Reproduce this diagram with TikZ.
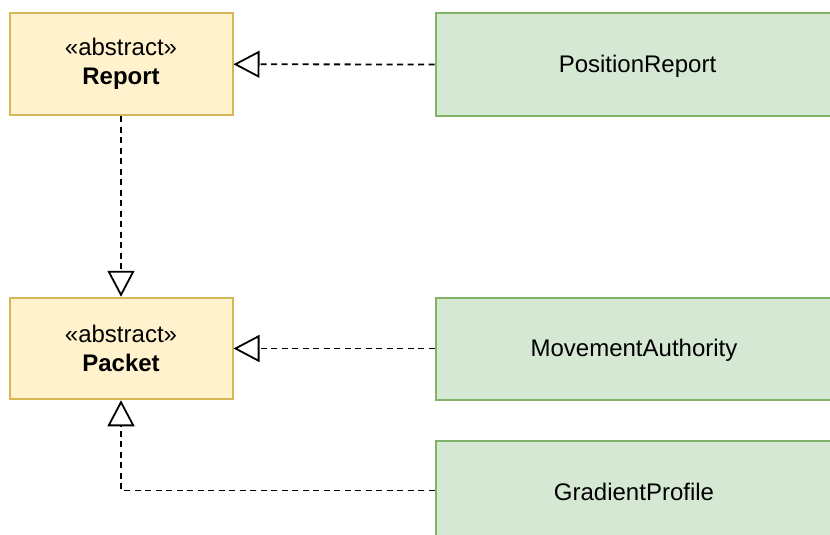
\documentclass[tikz,border=0pt]{standalone}
\usepackage{fontspec}
\setmainfont{Liberation Sans}
\usetikzlibrary{arrows.meta}
\definecolor{yfill}{HTML}{FFF2CC}
\definecolor{ydraw}{HTML}{D6B656}
\definecolor{gfill}{HTML}{D5E8D4}
\definecolor{gdraw}{HTML}{82B366}
\tikzset{
  absbox/.style={draw=ydraw,fill=yfill,line width=2pt,minimum width=223pt,minimum height=101.5pt,inner sep=0pt,align=center,font=\fontsize{24}{28}\selectfont},
  concbox/.style={draw=gdraw,fill=gfill,line width=2pt,minimum width=410pt,minimum height=102pt,inner sep=0pt},
  lbl/.style={font=\fontsize{24}{28}\selectfont,inner sep=0pt},
  realize/.style={line width=1.8pt,dash pattern=on 6pt off 4.5pt,-{Triangle[open,length=26pt,width=27pt]}}
}
\begin{document}
\begin{tikzpicture}[x=1pt,y=-1pt]
\useasboundingbox (0,0) rectangle (830,535);
\begin{scope}
\clip (0,0) rectangle (830,535);
\node[absbox] (report) at (121,64.25) {\raisebox{0pt}[0pt][0pt]{}«abstract»\\[1pt]\textbf{Report}};
\node[absbox] (packet) at (121,348.5) {«abstract»\\[1pt]\textbf{Packet}};
\node[concbox,anchor=west] (pos) at (434.5,64.5) {};
\node[concbox,anchor=west] (mov) at (434.5,348.5) {};
\node[concbox,anchor=north west] (grad) at (434.5,439.5) {};
\node[lbl] (postext) at (637.5,66) {PositionReport};
\node[lbl] (movtext) at (634,350) {MovementAuthority};
\node[lbl] (gradtext) at (634,492) {GradientProfile};
\coordinate (corner) at (121,490.5);
\draw[realize] (pos.west) -- (report.east);
\draw[realize] (mov.west) -- (packet.east);
\draw[realize] (report.south) -- (packet.north);
\draw[realize] (grad.west |- corner) -- (corner) -- (packet.south);
\end{scope}
\end{tikzpicture}
\end{document}
